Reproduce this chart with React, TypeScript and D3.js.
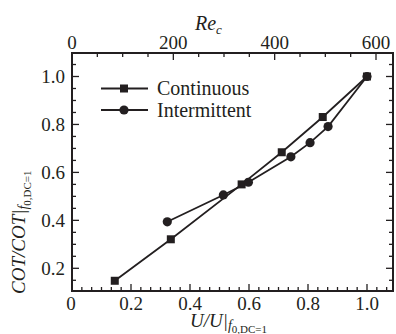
import React from 'react';
import * as d3 from 'd3';

// values
const contU = [0.145, 0.335, 0.575, 0.711, 0.85, 1.0];
const contCOT = [0.148, 0.321, 0.55, 0.684, 0.831, 1.0];
const interU = [0.323, 0.513, 0.598, 0.742, 0.807, 0.868, 1.0];
const interCOT = [0.394, 0.506, 0.559, 0.665, 0.724, 0.791, 1.0];

const xTickLabels = ['0', '0.2', '0.4', '0.6', '0.8', '1.0'];
const yTickLabels = ['0.2', '0.4', '0.6', '0.8', '1.0'];
const reTickLabels = ['0', '200', '400', '600'];

const ink = '#231f20';
const serif = { fontFamily: "'Liberation Serif'" };

const App: React.FC = () => {
  const width = 396;
  const height = 334;
  const frame = { left: 72, right: 393, top: 53, bottom: 291 };

  const x = d3.scaleLinear().domain([0, 1]).range([72, 367]);
  const y = d3.scaleLinear().domain([0.2, 1]).range([268.3, 76.5]);
  const re = d3.scaleLinear().domain([0, 600]).range([72, 376]);

  const uMax = x.invert(frame.right);
  const vMin = y.invert(frame.bottom);
  const vMax = y.invert(frame.top);
  const reMax = re.invert(frame.right);

  const xTicks = d3.range(1, Math.floor(uMax * 30) + 1).map(k => ({ v: k / 30, major: k % 6 === 0 }));
  const yTicks = d3.range(Math.ceil(vMin * 20), Math.floor(vMax * 20) + 1).map(k => ({ v: k / 20, major: k % 4 === 0 }));
  const reTicks = d3.range(1, Math.floor(reMax / 50) + 1).map(k => ({ v: k * 50, major: k % 4 === 0 }));

  const line = d3.line<[number, number]>()
    .x(d => x(d[0]))
    .y(d => y(d[1]));

  const cont = contU.map((u, i) => [u, contCOT[i]] as [number, number]);
  const inter = interU.map((u, i) => [u, interCOT[i]] as [number, number]);

  const majorLen = 7;
  const minorLen = 4;

  return (
    <svg width={width} height={height} style={{ position: 'absolute', left: 0, top: 0, background: '#fff' }}
      fill={ink}>
      {/* frame */}
      <rect x={frame.left} y={frame.top} width={frame.right - frame.left} height={frame.bottom - frame.top}
        fill="none" stroke={ink} strokeWidth={2} />

      {/* bottom + top ticks */}
      {xTicks.map((t, i) => (
        <line key={'xb' + i} x1={x(t.v)} x2={x(t.v)} y1={frame.bottom} y2={frame.bottom - (t.major ? majorLen : minorLen)}
          stroke={ink} strokeWidth={1.3} />
      ))}
      {reTicks.map((t, i) => (
        <line key={'xt' + i} x1={re(t.v)} x2={re(t.v)} y1={frame.top} y2={frame.top + (t.major ? majorLen : minorLen)}
          stroke={ink} strokeWidth={1.3} />
      ))}
      {/* left + right ticks */}
      {yTicks.map((t, i) => (
        <g key={'y' + i}>
          <line x1={frame.left} x2={frame.left + (t.major ? majorLen : minorLen)} y1={y(t.v)} y2={y(t.v)}
            stroke={ink} strokeWidth={1.3} />
          <line x1={frame.right} x2={frame.right - (t.major ? majorLen : minorLen)} y1={y(t.v)} y2={y(t.v)}
            stroke={ink} strokeWidth={1.3} />
        </g>
      ))}

      {/* tick labels */}
      {xTickLabels.map(l => (
        <text key={'xl' + l} style={serif} fontSize={19} textAnchor="middle"
          x={l === '0' ? x(0) - 1 : x(+l)} y={310}>{l}</text>
      ))}
      {reTickLabels.map(l => (
        <text key={'rl' + l} style={serif} fontSize={19} textAnchor="middle" x={re(+l)} y={49}>{l}</text>
      ))}
      {yTickLabels.map(l => (
        <text key={'yl' + l} style={serif} fontSize={19} textAnchor="end" x={65} y={y(+l) + 6.5}>{l}</text>
      ))}

      {/* axis titles */}
      <text style={serif} x={195} y={30} fontSize={20} fontStyle="italic">
        Re<tspan fontSize={13} dy={4}>c</tspan>
      </text>
      <text style={serif} x={190} y={327} fontSize={19} fontStyle="italic">
        U/U|<tspan fontSize={14} dy={3}>f</tspan><tspan fontSize={11} dy={3} fontStyle="normal">0,DC=1</tspan>
      </text>
      <text style={serif} transform="translate(25,294) rotate(-90)" fontSize={19} fontStyle="italic">
        COT/COT|<tspan fontSize={14} dy={3}>f</tspan><tspan fontSize={11} dy={3} fontStyle="normal">0,DC=1</tspan>
      </text>

      {/* series */}
      <path d={line(cont) ?? ''} fill="none" stroke={ink} strokeWidth={1.8} />
      <path d={line(inter) ?? ''} fill="none" stroke={ink} strokeWidth={1.8} />
      {cont.map((d, i) => (
        <rect key={'s' + i} x={x(d[0]) - 4} y={y(d[1]) - 4} width={8} height={8} fill={ink} />
      ))}
      {inter.map((d, i) => (
        <circle key={'c' + i} cx={x(d[0])} cy={y(d[1])} r={4.6} fill={ink} />
      ))}

      {/* legend */}
      <line x1={101} x2={148} y1={88.5} y2={88.5} stroke={ink} strokeWidth={1.8} />
      <rect x={120} y={84.5} width={8} height={8} fill={ink} />
      <text style={serif} fontSize={20} x={157} y={95}>Continuous</text>
      <line x1={101} x2={148} y1={110} y2={110} stroke={ink} strokeWidth={1.8} />
      <circle cx={124} cy={110} r={4.6} fill={ink} />
      <text style={serif} fontSize={20} x={157} y={116.5}>Intermittent</text>
    </svg>
  );
};

export default App;
